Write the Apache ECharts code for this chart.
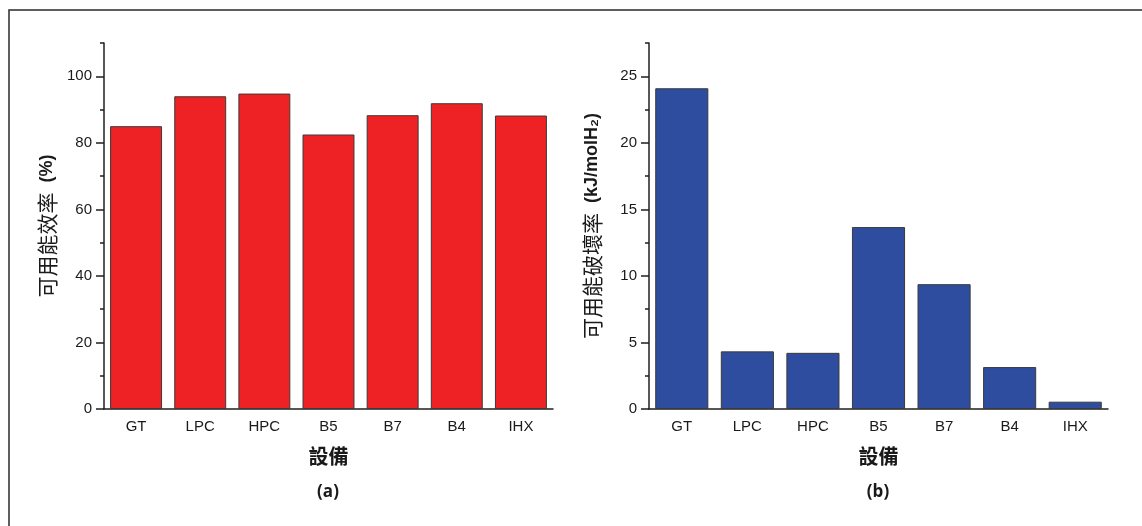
<!DOCTYPE html>
<html>
<head>
<meta charset="utf-8">
<script src="https://cdn.jsdelivr.net/npm/echarts@6/dist/echarts.min.js"></script>
<style>
html,body{margin:0;padding:0;background:#fff;}
#c{width:1142px;height:526px;}
</style>
</head>
<body>
<div id="c"></div>
<script>
const categories = ['GT', 'LPC', 'HPC', 'B5', 'B7', 'B4', 'IHX'];
const efficiency = [85.0, 94.0, 94.8, 82.5, 88.3, 91.9, 88.2];
const destruction = [24.1, 4.33, 4.22, 13.67, 9.38, 3.15, 0.55];
const effMajorTicks = [0, 20, 40, 60, 80, 100];
const effMinorTicks = [10, 30, 50, 70, 90, 110];
const desMajorTicks = [0, 5, 10, 15, 20, 25];
const desMinorTicks = [2.5, 7.5, 12.5, 17.5, 22.5, 27.5];
const xName = '設備';
const panelLabels = ['(a)', '(b)'];

const AX = '#1f1f1f';
const labelFont = {color: '#1a1a1a', fontSize: 15, fontFamily: 'Liberation Sans, Arial, sans-serif'};
const cjk = 'Noto Sans CJK TC, sans-serif';

function xAxes(gridIndex) {
  return [
    {
      type: 'category', gridIndex, data: categories, position: 'bottom',
      axisLine: {lineStyle: {color: AX, width: 1.5}},
      axisTick: {alignWithLabel: true, length: 7, lineStyle: {color: AX, width: 1.5}},
      axisLabel: Object.assign({margin: 10}, labelFont),
      name: xName, nameLocation: 'middle', nameGap: 37,
      nameTextStyle: {fontFamily: cjk, fontSize: 20, fontWeight: 'bold', color: '#1a1a1a'}
    },
    {
      type: 'category', gridIndex, data: categories, position: 'bottom',
      axisLine: {show: false},
      axisTick: {alignWithLabel: false, length: 4, lineStyle: {color: AX, width: 1.5}},
      axisLabel: {show: false}
    }
  ];
}

function yAxes(gridIndex, max, major, minor, nameRich) {
  return [
    {
      type: 'value', gridIndex, min: 0, max: max, position: 'left',
      interval: major[1] - major[0],
      axisLine: {show: true, lineStyle: {color: AX, width: 1.5}},
      axisTick: {show: true, length: 8, customValues: major, lineStyle: {color: AX, width: 1.5}},
      axisLabel: Object.assign({margin: 12, customValues: major}, labelFont),
      splitLine: {show: false},
      name: nameRich, nameLocation: 'middle', nameGap: 46, nameRotate: 90,
      nameTextStyle: {
        rich: {
          c: {fontFamily: cjk, fontSize: 21, color: '#1a1a1a'},
          l: {fontFamily: 'Liberation Sans, Arial, sans-serif', fontSize: 18, fontWeight: 'bold', color: '#1a1a1a'}
        }
      }
    },
    {
      type: 'value', gridIndex, min: 0, max: max, position: 'left',
      interval: minor[1] - minor[0],
      axisLine: {show: false},
      axisTick: {show: true, length: 4, customValues: minor, lineStyle: {color: AX, width: 1.5}},
      axisLabel: {show: false},
      splitLine: {show: false}
    }
  ];
}

const chart = echarts.init(document.getElementById('c'), null, {renderer: 'canvas'});
chart.setOption({
  backgroundColor: '#fff',
  animation: false,
  grid: [
    {left: 104, top: 43, width: 449, height: 366},
    {left: 649, top: 43, width: 459, height: 366}
  ],
  xAxis: xAxes(0).concat(xAxes(1)),
  yAxis: yAxes(0, 110, effMajorTicks, effMinorTicks, '{c|可用能效率}{l|  (%)}')
    .concat(yAxes(1, 27.5, desMajorTicks, desMinorTicks, '{c|可用能破壞率}{l|  (kJ/molH₂)}')),
  series: [
    {
      type: 'bar', xAxisIndex: 0, yAxisIndex: 0, data: efficiency,
      barCategoryGap: '19%',
      itemStyle: {color: '#EE2224', borderColor: '#3a3a3a', borderWidth: 1}
    },
    {
      type: 'bar', xAxisIndex: 2, yAxisIndex: 2, data: destruction,
      barCategoryGap: '19%',
      itemStyle: {color: '#2E4D9F', borderColor: '#3a3a3a', borderWidth: 1}
    }
  ],
  graphic: [
    {type: 'rect', shape: {x: 9, y: 10, width: 1300, height: 700}, style: {fill: 'none', stroke: '#2a2a2a', lineWidth: 1.5}, silent: true},
    {type: 'text', x: 328, y: 492, style: {text: panelLabels[0], align: 'center', verticalAlign: 'middle', font: 'bold 17px "Open Sans", "Liberation Sans", sans-serif', fill: '#1a1a1a'}},
    {type: 'text', x: 878, y: 492, style: {text: panelLabels[1], align: 'center', verticalAlign: 'middle', font: 'bold 17px "Open Sans", "Liberation Sans", sans-serif', fill: '#1a1a1a'}}
  ]
});
</script>
</body>
</html>
